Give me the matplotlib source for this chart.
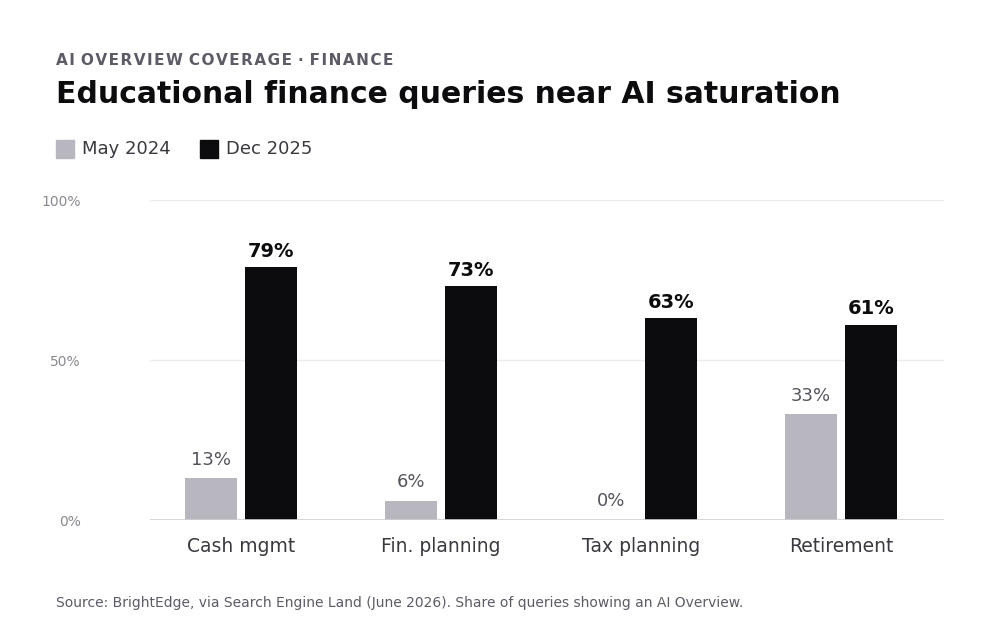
import matplotlib
matplotlib.use("Agg")
import matplotlib.pyplot as plt
import numpy as np

categories = ["Cash mgmt", "Fin. planning", "Tax planning", "Retirement"]
may2024 = [13, 6, 0, 33]
dec2025 = [79, 73, 63, 61]
yticks = [0, 50, 100]
ytick_labels = ["0%", "50%", "100%"]

GRAY = "#b8b7bf"
BLACK = "#0c0c0e"

fig = plt.figure(figsize=(10, 6.4), dpi=100)
ax = fig.add_axes([0.15, 0.1875, 0.794, 0.5])
x = np.arange(len(categories))
w = 0.26
for i, (a, b) in enumerate(zip(may2024, dec2025)):
    ax.bar(x[i] - 0.15, a if a > 0 else 0.6, w, bottom=0 if a > 0 else -0.6, color=GRAY, zorder=3)
    ax.bar(x[i] + 0.15, b, w, color=BLACK, zorder=3)
    ax.text(x[i] - 0.15, a + 3, f"{a}%", ha="center", va="bottom", fontsize=13, color="#55535c")
    ax.text(x[i] + 0.15, b + 2, f"{b}%", ha="center", va="bottom", fontsize=14, fontweight="bold", color=BLACK)

ax.set_xlim(-0.455, 3.515)
ax.set_ylim(0, 100)
ax.set_yticks(yticks)
ax.set_yticklabels(ytick_labels, fontsize=10, color="#8a8990")
ax.tick_params(axis="y", length=0, pad=50)
ax.set_xticks(x)
ax.set_xticklabels(categories, fontsize=13.5, color="#3a3940")
ax.tick_params(axis="x", length=0, pad=12)
for s in ax.spines.values():
    s.set_visible(False)
ax.grid(axis="y", color="#ececec", lw=1, zorder=0)
ax.axhline(0, color="#d0d0d0", lw=1.2, zorder=4)

fig.text(0.056, 0.905, "A I  O V E R V I E W  C O V E R A G E  ·  F I N A N C E".replace("  ", "\u2009\u2009").replace(" ", "\u200a"),
         fontsize=11, fontweight="bold", color="#5c5b66", va="center")
fig.text(0.056, 0.852, "Educational finance queries near AI saturation", fontsize=21.5,
         fontweight="bold", color=BLACK, va="center")
fig.patches.append(plt.Rectangle((0.056, 0.753), 0.018, 0.028, transform=fig.transFigure, color=GRAY))
fig.text(0.082, 0.767, "May 2024", fontsize=13, color="#3a3940", va="center")
fig.patches.append(plt.Rectangle((0.200, 0.753), 0.018, 0.028, transform=fig.transFigure, color=BLACK))
fig.text(0.226, 0.767, "Dec 2025", fontsize=13, color="#3a3940", va="center")
fig.text(0.056, 0.058, "Source: BrightEdge, via Search Engine Land (June 2026). Share of queries showing an AI Overview.",
         fontsize=10, color="#5c5b66", va="center")

fig.savefig("out.png", dpi=100)
